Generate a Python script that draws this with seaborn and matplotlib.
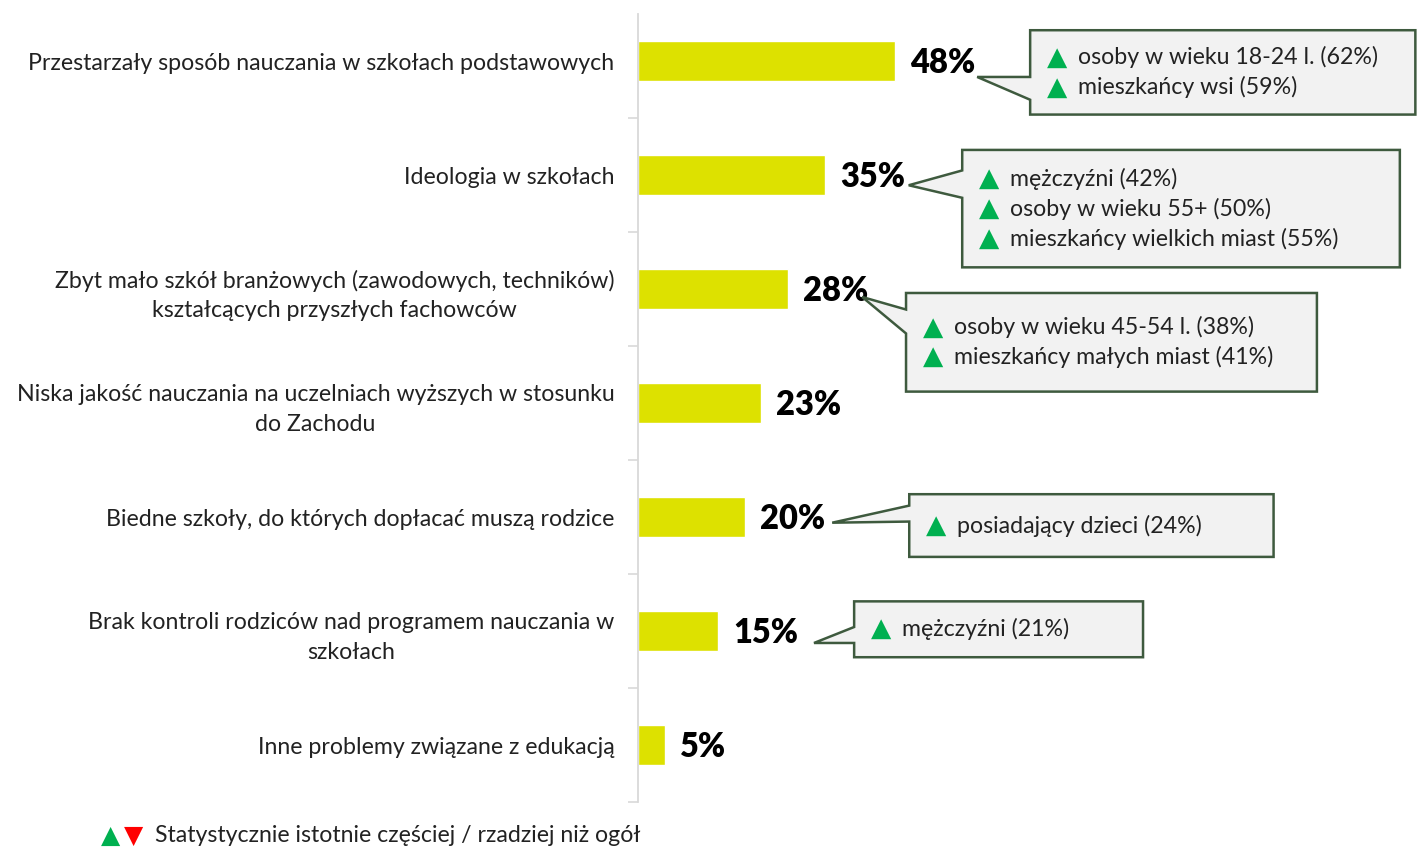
import matplotlib

matplotlib.use("Agg")

import matplotlib.pyplot as plt
import seaborn as sns
from matplotlib.patches import Polygon
from matplotlib.ticker import FixedLocator

# --- data -----------------------------------------------------------------
categories = [
    "Przestarzały sposób nauczania w szkołach podstawowych",
    "Ideologia w szkołach",
    "Zbyt mało szkół branżowych (zawodowych, techników)\nkształcących przyszłych fachowców",
    "Niska jakość nauczania na uczelniach wyższych w stosunku\ndo Zachodu",
    "Biedne szkoły, do których dopłacać muszą rodzice",
    "Brak kontroli rodziców nad programem nauczania w\nszkołach",
    "Inne problemy związane z edukacją",
]
values = [48, 35, 28, 23, 20, 15, 5]

callout_rows = [0, 1, 2, 4, 5]
callout_lines = [
    ["osoby w wieku 18-24 l. (62%)", "mieszkańcy wsi (59%)"],
    ["mężczyźni (42%)", "osoby w wieku 55+ (50%)", "mieszkańcy wielkich miast (55%)"],
    ["osoby w wieku 45-54 l. (38%)", "mieszkańcy małych miast (41%)"],
    ["posiadający dzieci (24%)"],
    ["mężczyźni (21%)"],
]

footer = "Statystycznie istotnie częściej / rzadziej niż ogół"

# callout geometry (x in % units, y relative to the bar row)
callout_geom = [
    dict(tip_dx=15.4, tip_dy=0.14, box_x=(73.3, 145.3), box_y=(-0.27, 0.47), base_y=(0.14, 0.34)),
    dict(tip_dx=15.6, tip_dy=0.09, box_x=(60.6, 142.4), box_y=(-0.22, 0.81), base_y=(-0.04, 0.20)),
    dict(tip_dx=13.9, tip_dy=0.07, box_x=(50.1, 126.9), box_y=(0.035, 0.90), base_y=(0.18, 0.39)),
    dict(tip_dx=16.3, tip_dy=0.05, box_x=(50.7, 118.8), box_y=(-0.20, 0.35), base_y=(-0.10, 0.04)),
    dict(tip_dx=17.9, tip_dy=0.105, box_x=(40.4, 94.4), box_y=(-0.26, 0.23), base_y=(-0.035, 0.105)),
]

BAR = "#DDE100"
GREEN = "#00B050"
RED = "#FF0000"
EDGE = "#3E5A3E"
BOXFILL = "#F2F2F2"
TXT = "#222222"
FS = 16.7

sns.set_theme(style="white")
plt.rcParams["font.family"] = ["Lato", "DejaVu Sans"]

fig = plt.figure(figsize=(14.18, 8.51), dpi=100)
ax = fig.add_axes([638 / 1418, 49 / 851, 780 / 1418, 798 / 851])

sns.barplot(x=values, y=categories, color=BAR, width=0.35, ax=ax, saturation=1)

ax.set_xlim(0, 780 / 5.35)
ax.set_ylim(6.5, -0.5)
ax.set_xlabel("")
ax.set_ylabel("")
ax.set_xticks([])

for s in ["top", "right", "bottom"]:
    ax.spines[s].set_visible(False)
ax.spines["left"].set_color("#D9D9D9")
ax.spines["left"].set_linewidth(1.3)
ax.spines["left"].set_bounds(6.5, -0.41)

ax.tick_params(axis="y", which="major", length=0, pad=17, labelsize=FS, labelcolor=TXT)
ax.yaxis.set_minor_locator(FixedLocator([i + 0.5 for i in range(7)]))
ax.tick_params(axis="y", which="minor", left=True, length=7, width=1.2, color="#D9D9D9", direction="out")
for lbl in ax.get_yticklabels():
    lbl.set_multialignment("center")
    lbl.set_linespacing(1.5)

# value labels
for i, v in enumerate(values):
    ax.text(v + 2.8, i + 0.015, f"{v}%", va="center", ha="left", fontsize=23.5,
            fontweight="heavy", color="black")

# callouts
for row, lines, g in zip(callout_rows, callout_lines, callout_geom):
    v = values[row]
    tip = (v + g["tip_dx"], row + g["tip_dy"])
    x0, x1 = g["box_x"]
    y0, y1 = row + g["box_y"][0], row + g["box_y"][1]
    b0, b1 = row + g["base_y"][0], row + g["base_y"][1]
    poly = Polygon(
        [(x0, y0), (x1, y0), (x1, y1), (x0, y1), (x0, b1), tip, (x0, b0)],
        closed=True, facecolor=BOXFILL, edgecolor=EDGE, linewidth=1.8,
        clip_on=False, zorder=3,
    )
    ax.add_patch(poly)
    yc = (y0 + y1) / 2
    step = 0.263
    start = yc - step * (len(lines) - 1) / 2
    for k, line in enumerate(lines):
        yy = start + step * k
        ax.text(x0 + 3.2, yy, "▲", color=GREEN, fontsize=19, va="center",
                ha="left", family=["DejaVu Sans"], zorder=4)
        ax.text(x0 + 9.0, yy, line, color=TXT, fontsize=FS,
                va="center", ha="left", zorder=4)

# footer legend
fy = 1 - 836 / 851
fig.text(101 / 1418, fy, "▲", color=GREEN, fontsize=18,
         va="center", ha="left", family=["DejaVu Sans"])
fig.text(124 / 1418, fy, "▼", color=RED, fontsize=18,
         va="center", ha="left", family=["DejaVu Sans"])
fig.text(155 / 1418, fy, footer, color=TXT, fontsize=FS,
         va="center", ha="left")

fig.savefig("out.png", dpi=100)
plt.close(fig)
